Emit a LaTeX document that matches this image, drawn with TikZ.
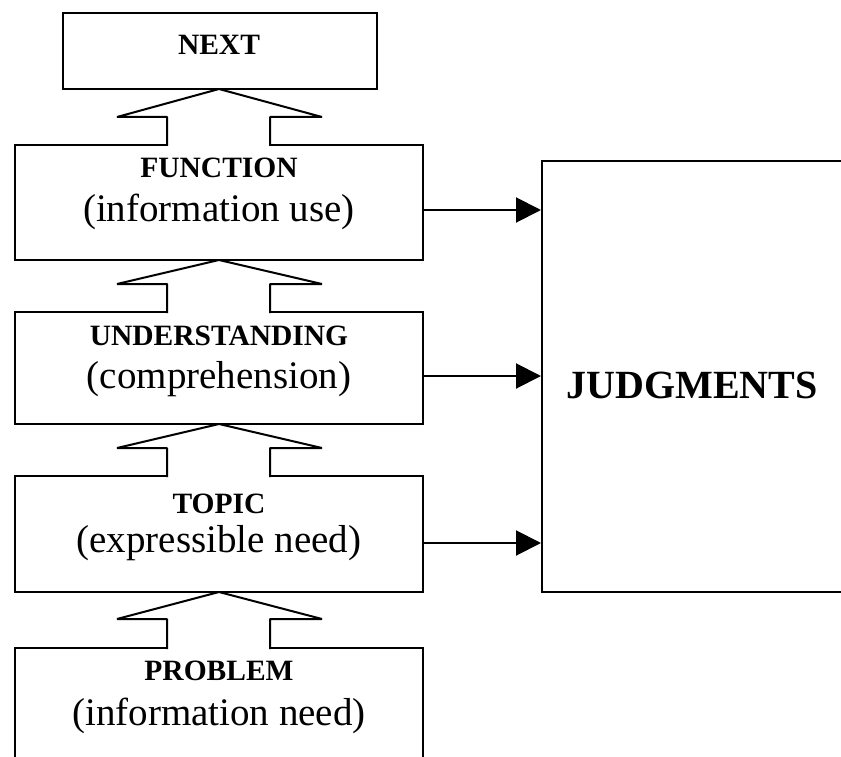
\documentclass[tikz,border=0pt]{standalone}
\usepackage{fontspec}
\setmainfont{Liberation Serif}
\usetikzlibrary{arrows.meta,calc}
\newcommand\blockup[3]{% #1 tip y, #2 head base y, #3 shaft bottom y
  \fill[white] (167,#3+1.5) -- (167,#2) -- (117,#2) -- (219,#1) -- (322,#2) -- (270,#2) -- (270,#3+1.5) -- cycle;
  \draw[line join=bevel] (167,#3+1) -- (167,#2) -- (117,#2) -- (219,#1) -- (322,#2) -- (270,#2) -- (270,#3+1);}
\begin{document}
\begin{tikzpicture}[x=1pt,y=-1pt, line width=2pt,
  box/.style={draw, line width=2pt, rectangle, inner sep=0pt},
  lab/.style={font=\fontsize{29.5}{30}\selectfont\bfseries, anchor=base, inner sep=0pt},
  sub/.style={font=\fontsize{39}{40}\selectfont, anchor=base, inner sep=0pt},
  big/.style={font=\fontsize{40}{41}\selectfont\bfseries, anchor=base, inner sep=0pt},
  conn/.style={-{Triangle[length=25pt,width=25pt]}, line width=2pt}]
\useasboundingbox (0,0) rectangle (841,757);
\clip (0,0) rectangle (841,757);
% boxes
\node[box, minimum width=314pt, minimum height=76pt] (next) at (220,51) {};
\node[box, minimum width=408pt, minimum height=115pt] (func) at (219,202.5) {};
\node[box, minimum width=408pt, minimum height=112pt] (und) at (219,368) {};
\node[box, minimum width=408pt, minimum height=116pt] (topic) at (219,534) {};
\node[box, minimum width=408pt, minimum height=142pt] (prob) at (219,719) {};
\node[box, minimum width=358pt, minimum height=431pt] (judg) at (721,376.5) {};
% texts
\node[lab] (tnext) at (219,55) {NEXT};
\node[lab] (tfunc) at (219,178) {FUNCTION};
\node[sub] (sfunc) at (219,221) {(information use)};
\node[lab] (tund) at (219,345) {UNDERSTANDING};
\node[sub] (sund) at (219,388) {(comprehension)};
\node[lab] (ttopic) at (219,513) {TOPIC};
\node[sub] (stopic) at (219,552) {(expressible need)};
\node[lab] (tprob) at (219,680) {PROBLEM};
\node[sub] (sprob) at (219,725) {(information need)};
\node[big] (tjudg) at (692,398) {JUDGMENTS};
% block arrows
\blockup{89}{117}{145}
\blockup{260}{284}{312}
\blockup{424}{448}{476}
\blockup{592}{619}{648}
% connectors
\path (func.east) ++(0,7.5) coordinate (c1);
\path (und.east) ++(0,8) coordinate (c2);
\path (topic.east) ++(0,9) coordinate (c3);
\draw[conn] (c1) -- (c1 -| judg.west);
\draw[conn] (c2) -- (c2 -| judg.west);
\draw[conn] (c3) -- (c3 -| judg.west);
\end{tikzpicture}
\end{document}
